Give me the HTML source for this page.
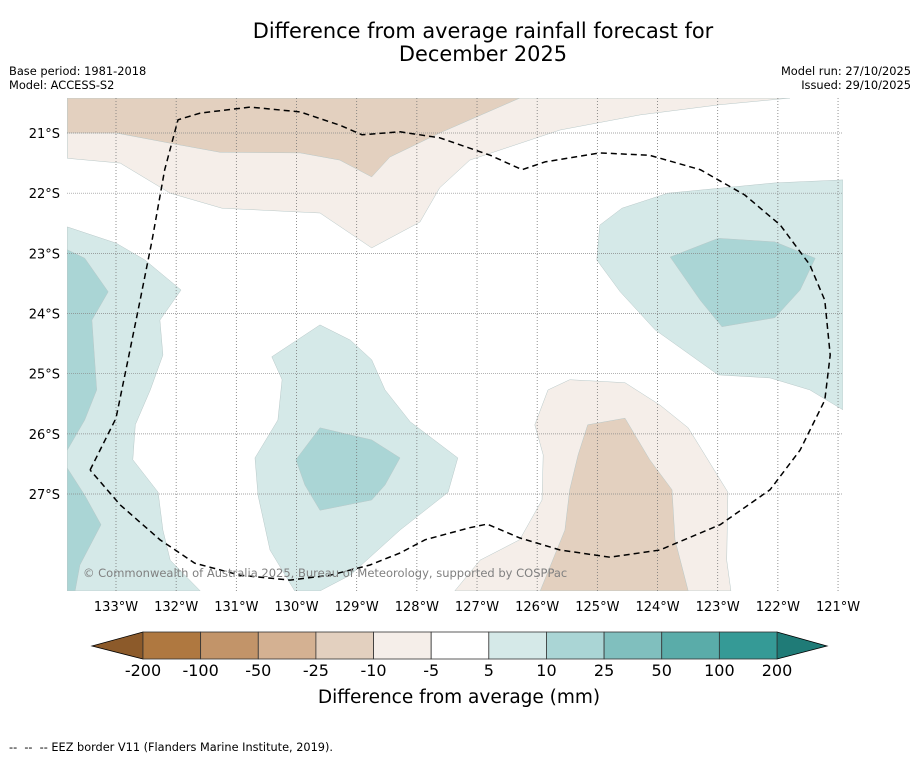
<!DOCTYPE html>
<html><head><meta charset="utf-8"><style>
body{margin:0;background:#fff;font-family:"Liberation Sans","DejaVu Sans",sans-serif}
</style></head><body>
<svg id="chart" width="919" height="758" xmlns="http://www.w3.org/2000/svg" font-family="DejaVu Sans, Liberation Sans, sans-serif">
<rect width="919" height="758" fill="#fff"/>
<text x="483" y="38" text-anchor="middle" font-size="20.9">Difference from average rainfall forecast for</text>
<text x="483" y="61" text-anchor="middle" font-size="20.9">December 2025</text>
<text x="9" y="75" font-size="11.4">Base period: 1981-2018</text>
<text x="9" y="89" font-size="11.4">Model: ACCESS-S2</text>
<text x="911" y="75" font-size="11.4" text-anchor="end">Model run: 27/10/2025</text>
<text x="911" y="89" font-size="11.4" text-anchor="end">Issued: 29/10/2025</text>
<defs><clipPath id="mapclip"><rect x="67" y="98" width="776" height="493"/></clipPath></defs>
<g id="map" clip-path="url(#mapclip)"></g>
<g id="axes"></g>
<g id="cbar"></g>
<text x="83" y="577" font-size="11.5" fill="#808080">© Commonwealth of Australia 2025, Bureau of Meteorology, supported by COSPPac</text>
<text x="459" y="703" text-anchor="middle" font-size="18.5">Difference from average (mm)</text>
<text x="9" y="751" font-size="11.3" style="white-space:pre">--  --  -- EEZ border V11 (Flanders Marine Institute, 2019).</text>
</svg>
<script>
const lonTicks=[133,132,131,130,129,128,127,126,125,124,123,122,121];
const latTicks=[21,22,23,24,25,26,27];
const cbLevels=["-200","-100","-50","-25","-10","-5","5","10","25","50","100","200"];
const cbColors=["#af7840","#c29469","#d4b192","#e3d0bf","#f5eee9","#ffffff","#d5e9e8","#aad5d5","#80bfbe","#5aaca9","#359a96"];
const brown25Top=[[133.81,20.42],[133.81,21],[133,21],[132.10,21.17],[131.27,21.32],[129.94,21.33],[129.28,21.45],[128.75,21.73],[128.45,21.40],[127.62,21.0],[126.29,20.42]];
const brown10Top=[[133.81,20.42],[133.81,21.42],[132.93,21.50],[132.10,22.0],[131.24,22.25],[129.61,22.33],[128.75,22.91],[127.95,22.48],[127.62,21.91],[127.12,21.45],[125.62,20.95],[124.29,20.70],[122.96,20.53],[121.80,20.42]];
const teal5Left=[[133.81,22.56],[133,22.83],[132.52,23.11],[131.92,23.61],[132.27,24.11],[132.22,24.69],[132.43,25.27],[132.68,25.85],[132.72,26.43],[132.30,26.97],[132.22,27.60],[132.10,28.10],[131.60,28.61],[133.81,28.61]];
const teal10LeftA=[[133.81,22.94],[133.52,23.08],[133.13,23.64],[133.40,24.11],[133.32,25.27],[133.52,25.77],[133.81,26.27]];
const teal10LeftB=[[133.81,26.57],[133.52,27.02],[133.25,27.51],[133.60,28.18],[133.68,28.61],[133.81,28.61]];
const teal5Center=[[130.41,24.72],[129.61,24.19],[129.11,24.44],[128.75,24.77],[128.53,25.27],[128.11,25.80],[127.32,26.40],[127.48,26.97],[128.28,27.60],[129.11,28.35],[129.61,28.61],[130.03,28.61],[130.44,27.93],[130.64,27.02],[130.69,26.40],[130.31,25.77],[130.24,25.10]];
const teal10Center=[[130.01,26.43],[129.61,25.90],[128.75,26.10],[128.28,26.40],[128.53,26.85],[128.75,27.10],[129.61,27.27],[129.86,26.85]];
const teal5Right=[[120.92,21.78],[122.05,21.83],[123.83,22.0],[124.59,22.25],[124.96,22.53],[125.01,23.11],[124.62,23.64],[124.04,24.27],[122.99,25.02],[122.13,25.07],[121.47,25.27],[120.92,25.60]];
const teal10Right=[[123.79,23.06],[122.99,22.75],[122.05,22.81],[121.38,23.08],[121.63,23.61],[122.05,24.07],[122.93,24.22],[123.29,23.78]];
const brown10Bottom=[[126.04,25.85],[125.82,25.27],[125.46,25.10],[124.54,25.15],[123.96,25.52],[123.49,25.90],[122.83,26.97],[122.85,28.10],[122.78,28.61],[127.37,28.61],[126.95,28.10],[126.29,27.76],[125.92,27.10],[125.90,26.35]];
const brown25Bottom=[[125.16,25.85],[124.54,25.74],[124.13,26.43],[123.76,26.93],[123.71,27.76],[123.49,28.61],[125.95,28.61],[125.54,27.60],[125.46,26.93],[125.32,26.35]];
const eez=[[133.43,26.60],[133,25.74],[132.80,24.77],[132.60,23.78],[132.40,22.78],[132.19,21.61],[131.97,20.78],[131.60,20.67],[130.77,20.57],[129.94,20.65],[129.28,20.87],[128.91,21.03],[128.28,20.98],[127.62,21.08],[126.78,21.37],[126.25,21.61],[125.87,21.48],[124.96,21.33],[124.13,21.37],[123.29,21.61],[122.55,22.03],[121.96,22.53],[121.47,23.19],[121.22,23.78],[121.13,24.69],[121.22,25.44],[121.63,26.27],[122.13,26.93],[122.96,27.51],[123.96,27.93],[124.79,28.05],[125.62,27.93],[126.29,27.73],[126.83,27.50],[127.12,27.56],[127.86,27.76],[128.28,27.98],[128.78,28.18],[129.44,28.35],[130.11,28.43],[130.94,28.35],[131.69,28.15],[132.27,27.76],[132.93,27.18],[133.43,26.60]];
const NS="http://www.w3.org/2000/svg";
const x=lon=>116+(133-lon)*60.17;
const y=lat=>133+(lat-21)*60.17;
function mk(tag,attrs,parent){const e=document.createElementNS(NS,tag);for(const k in attrs)e.setAttribute(k,attrs[k]);parent.appendChild(e);return e;}
const map=document.getElementById('map');
const pts=a=>a.map(p=>x(p[0]).toFixed(1)+','+y(p[1]).toFixed(1)).join(' ');
const layers=[[brown10Top,cbColors[4],'region-minus10-north'],[brown25Top,cbColors[3],'region-minus25-north'],[teal5Left,cbColors[6],'region-plus5-west'],[teal10LeftA,cbColors[7],'region-plus10-west-a'],[teal10LeftB,cbColors[7],'region-plus10-west-b'],[teal5Center,cbColors[6],'region-plus5-centre'],[teal10Center,cbColors[7],'region-plus10-centre'],[teal5Right,cbColors[6],'region-plus5-east'],[teal10Right,cbColors[7],'region-plus10-east'],[brown10Bottom,cbColors[4],'region-minus10-south'],[brown25Bottom,cbColors[3],'region-minus25-south']];
layers.forEach(L=>{const p=mk('polygon',{points:pts(L[0]),fill:L[1],stroke:'#b8c8c8','stroke-width':0.5},map);

});
const axes=document.getElementById('axes');
lonTicks.forEach(l=>{const g=mk('line',{x1:x(l),x2:x(l),y1:98,y2:591,stroke:'#777','stroke-width':0.8,'stroke-dasharray':'1,2'},map);


const t=mk('text',{x:x(l),y:611,'text-anchor':'middle','font-size':13},axes);t.textContent=l+'°W';

});
latTicks.forEach(l=>{const g=mk('line',{x1:67,x2:843,y1:y(l),y2:y(l),stroke:'#888','stroke-width':0.7,'stroke-dasharray':'1,1'},map);


const t=mk('text',{x:60,y:y(l)+5,'text-anchor':'end','font-size':13},axes);t.textContent=l+'°S';

});
const e=mk('polyline',{points:pts(eez),fill:'none',stroke:'#000','stroke-width':1.5,'stroke-dasharray':'6,4','stroke-linejoin':'round'},map);


const cb=document.getElementById('cbar');
const cx0=143,cw=(777-143)/cbColors.length;
const lt=mk('polygon',{points:'92,646 143,632 143,659',fill:'#8c5a2a',stroke:'#000','stroke-width':0.8},cb);


const rt=mk('polygon',{points:'827,646 777,632 777,659',fill:'#1f7b77',stroke:'#000','stroke-width':0.8},cb);


cbColors.forEach((c,i)=>{const r=mk('rect',{x:cx0+i*cw,y:632,width:cw,height:27,fill:c,stroke:'#333','stroke-width':0.8},cb);

});
cbLevels.forEach((s,i)=>{const t=mk('text',{x:cx0+i*cw,y:676,'text-anchor':'middle','font-size':16},cb);t.textContent=s;

});
</script>
</body></html>
